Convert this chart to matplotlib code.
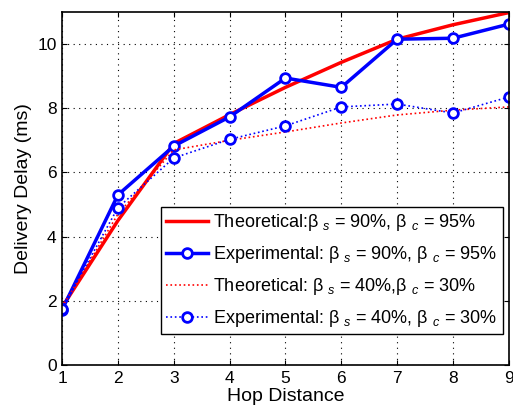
import numpy as np
import matplotlib
matplotlib.use('Agg')
import matplotlib.pyplot as plt

plt.rcParams['font.family'] = ['Liberation Sans', 'DejaVu Sans']
plt.rcParams['mathtext.fontset'] = 'custom'
plt.rcParams['mathtext.rm'] = 'Liberation Sans'
plt.rcParams['mathtext.it'] = 'Liberation Sans:italic'

# Hop distance
hops = [1, 2, 3, 4, 5, 6, 7, 8, 9]

# Delivery delay (ms)
theo_high = [1.8, 4.5, 6.9, 7.8, 8.65, 9.43, 10.15, 10.6, 10.98]
exp_high = [1.72, 5.3, 6.82, 7.73, 8.94, 8.65, 10.15, 10.18, 10.62]
theo_low = [1.8, 4.7, 6.7, 7.0, 7.26, 7.54, 7.79, 7.94, 8.04]
exp_low = [1.75, 4.9, 6.45, 7.03, 7.45, 8.04, 8.13, 7.85, 8.35]

labels = [r'Theoretical:β $_s$ = 90%, β $_c$ = 95%',
          r'Experimental: β $_s$ = 90%, β $_c$ = 95%',
          r'Theoretical: β $_s$ = 40%,β $_c$ = 30%',
          r'Experimental: β $_s$ = 40%, β $_c$ = 30%']

fig = plt.figure(figsize=(5.13, 4.11), dpi=100)
ax = fig.add_axes([0.121, 0.112, 0.871, 0.859])

ax.plot(hops, theo_high, color='red', lw=2.5, label=labels[0])
ax.plot(hops, exp_high, color='blue', lw=2.5, marker='o', ms=7,
        mfc='white', mew=2, label=labels[1])
ax.plot(hops, theo_low, color='red', lw=1.2, ls=':', label=labels[2])
ax.plot(hops, exp_low, color='blue', lw=1.2, ls=':', marker='o', ms=7,
        mfc='white', mew=2, label=labels[3])

ax.set_xlim(1, 9)
ax.set_ylim(0, 11)
ax.set_xticks(hops)
ax.set_yticks([0, 2, 4, 6, 8, 10])
ax.tick_params(direction='in', labelsize=12.5, top=True, right=True, pad=4)
ax.grid(True, ls=(0, (1, 4)), color='black', lw=0.8)
ax.set_xlabel('Hop Distance', fontsize=14, labelpad=2)
ax.set_ylabel('Delivery Delay (ms)', fontsize=14, labelpad=4)
for s in ax.spines.values():
    s.set_linewidth(1.2)

leg = ax.legend(loc='lower right', bbox_to_anchor=(0.986, 0.087), fontsize=13,
                fancybox=False, framealpha=1, edgecolor='black',
                handlelength=2.3, borderpad=0.3, labelspacing=0.6,
                handletextpad=0.3, borderaxespad=0)
leg.get_frame().set_linewidth(1.0)

fig.savefig('out.png', dpi=100)
